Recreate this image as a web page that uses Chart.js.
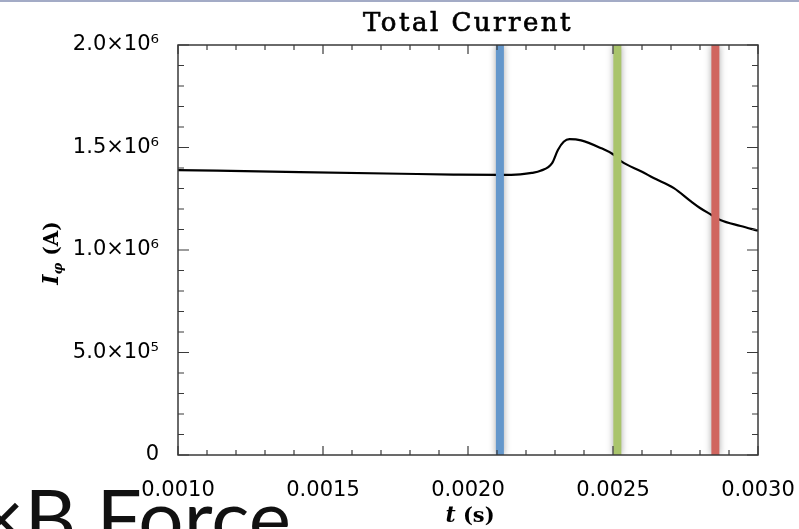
<!DOCTYPE html>
<html>
<head>
<meta charset="utf-8">
<script src="https://cdn.jsdelivr.net/npm/chart.js@4.4.0/dist/chart.umd.min.js"></script>
<style>
    html, body { margin: 0; padding: 0; background: #fff; }
    #painel { position: relative; width: 799px; height: 529px; overflow: hidden; background: #fff; }
    #barraTopo { position: absolute; left: 0; top: 0; width: 799px; height: 2px; background: #a3abc6; }
    #textoSlide { position: absolute; left: -22px; top: 476px; font-family: Lato, sans-serif; font-size: 80px; line-height: 1; color: #111; white-space: nowrap; }
    #grafico { position: absolute; left: 0; top: 0; }
</style>
</head>
<body>
<div id="painel">
    <div id="barraTopo"></div>
    <div id="textoSlide">×B Force</div>
    <canvas id="grafico" width="799" height="529"></canvas>
</div>
<script>
// Corrente total (A) em função do tempo (s)
var tempos = [0.00100, 0.00142, 0.00177, 0.00195, 0.00211, 0.00218, 0.00222, 0.00225, 0.00229, 0.00231,
              0.00233, 0.00235, 0.00239, 0.00246, 0.00250, 0.00253, 0.00260, 0.00264, 0.00271, 0.00277,
              0.00280, 0.00284, 0.00287, 0.00294, 0.00300];
var correntes = [1.390e6, 1.380e6, 1.372e6, 1.368e6, 1.366e6, 1.369e6, 1.376e6, 1.386e6, 1.424e6, 1.488e6,
                 1.528e6, 1.541e6, 1.535e6, 1.496e6, 1.467e6, 1.431e6, 1.382e6, 1.351e6, 1.302e6, 1.236e6,
                 1.205e6, 1.171e6, 1.146e6, 1.117e6, 1.094e6];

// Instantes marcados com linhas verticais
var temposMarcados = [0.00211, 0.002515, 0.002853];
var coresMarcas = ['#6497cb', '#a9c46b', '#d0665f'];

// Limites e passos dos eixos
var eixoX = { min: 0.0010, max: 0.0030, passo: 0.0005, passoMenor: 0.0001 };
var eixoY = { min: 0, max: 2.0e6, passo: 5.0e5, passoMenor: 1.0e5 };

const sobrescritos = { '0': '⁰', '1': '¹', '2': '²', '3': '³', '4': '⁴', '5': '⁵', '6': '⁶', '7': '⁷', '8': '⁸', '9': '⁹' };

// Formata 1500000 como 1.5×10⁶
function formatarCientifico(valor) {
    if (valor === 0) return '0';
    const expoente = Math.floor(Math.log10(valor) + 1e-9);
    const mantissa = valor / Math.pow(10, expoente);
    const exp = String(expoente).split('').map(c => sobrescritos[c]).join('');
    return mantissa.toFixed(1) + '×10' + exp;
}

// Monta os datasets: curva de corrente + linhas verticais
var datasets = [{
    label: 'Corrente',
    data: tempos.map((t, i) => ({ x: t, y: correntes[i] })),
    showLine: true,
    borderColor: '#000',
    borderWidth: 2.2,
    pointRadius: 0,
    cubicInterpolationMode: 'monotone',
    order: 2
}];

temposMarcados.forEach(function (t, i) {
    datasets.push({
        label: 'marca' + i,
        data: [{ x: t, y: eixoY.min }, { x: t, y: eixoY.max }],
        showLine: true,
        borderColor: coresMarcas[i],
        borderWidth: 8,
        pointRadius: 0,
        order: 1,
        marca: true
    });
});

// Sombra suave nas linhas verticais
const sombraMarcas = {
    id: 'sombraMarcas',
    beforeDatasetDraw(chart, args) {
        if (!args.meta._dataset.marca) return;
        const ctx = chart.ctx;
        ctx.save();
        ctx.shadowColor = 'rgba(0, 0, 0, 0.35)';
        ctx.shadowBlur = 7;
    },
    afterDatasetDraw(chart, args) {
        if (!args.meta._dataset.marca) return;
        chart.ctx.restore();
    }
};

// Moldura com marcas de escala para dentro nos quatro lados, títulos
const moldura = {
    id: 'moldura',
    afterDatasetsDraw(chart) {
        const ctx = chart.ctx;
        const a = chart.chartArea;
        const sx = chart.scales.x;
        const sy = chart.scales.y;
        ctx.save();
        ctx.strokeStyle = '#3a3a3a';
        ctx.lineWidth = 1.5;
        ctx.strokeRect(a.left, a.top, a.right - a.left, a.bottom - a.top);

        ctx.lineWidth = 1.2;
        ctx.beginPath();
        const nX = Math.round((eixoX.max - eixoX.min) / eixoX.passoMenor);
        for (let i = 0; i <= nX; i++) {
            const px = sx.getPixelForValue(eixoX.min + i * eixoX.passoMenor);
            const tam = (i % 5 === 0) ? 9 : 5;
            ctx.moveTo(px, a.bottom); ctx.lineTo(px, a.bottom - tam);
            ctx.moveTo(px, a.top); ctx.lineTo(px, a.top + tam);
        }
        const nY = Math.round((eixoY.max - eixoY.min) / eixoY.passoMenor);
        for (let i = 0; i <= nY; i++) {
            const py = sy.getPixelForValue(eixoY.min + i * eixoY.passoMenor);
            const tam = (i % 5 === 0) ? 11 : 6;
            ctx.moveTo(a.left, py); ctx.lineTo(a.left + tam, py);
            ctx.moveTo(a.right, py); ctx.lineTo(a.right - tam, py);
        }
        ctx.stroke();

        ctx.fillStyle = '#000';
        ctx.strokeStyle = '#000';
        ctx.textBaseline = 'alphabetic';

        // Título (traço leve para engrossar)
        ctx.font = '26px "DejaVu Serif"';
        ctx.letterSpacing = '2.5px';
        ctx.textAlign = 'center';
        ctx.lineWidth = 0.7;
        ctx.fillText('Total Current', (a.left + a.right) / 2, 31);
        ctx.strokeText('Total Current', (a.left + a.right) / 2, 31);
        ctx.letterSpacing = '0px';

        // Título do eixo x: t (s)
        ctx.textAlign = 'left';
        const fT = 'bold italic 22px "DejaVu Serif"';
        const fS = 'bold 21px "DejaVu Serif"';
        ctx.font = fT; const wT = ctx.measureText('t').width;
        ctx.font = fS; const wS = ctx.measureText(' (s)').width;
        let x = 470 - (wT + wS) / 2;
        ctx.font = fT; ctx.fillText('t', x, 522);
        ctx.font = fS; ctx.fillText(' (s)', x + wT, 522);

        // Título do eixo y: Iφ (A), girado
        ctx.translate(50, 253);
        ctx.rotate(-Math.PI / 2);
        const fI = 'bold italic 22px "DejaVu Serif"';
        const fSub = 'bold italic 13px "DejaVu Serif"';
        const fA = 'bold 20px "DejaVu Serif"';
        ctx.font = fI; const wI = ctx.measureText('I').width;
        ctx.font = fSub; const wSub = ctx.measureText('φ').width;
        ctx.font = fA; const wA = ctx.measureText(' (A)').width;
        let y0 = -(wI + wSub + wA) / 2;
        ctx.font = fI; ctx.fillText('I', y0, 8); y0 += wI;
        ctx.font = fSub; ctx.fillText('φ', y0, 12); y0 += wSub;
        ctx.font = fA; ctx.fillText(' (A)', y0, 8);
        ctx.restore();
    }
};

const fonteTicks = { family: '"DejaVu Sans", sans-serif', size: 21 };

var grafico = new Chart(document.getElementById('grafico').getContext('2d'), {
    type: 'scatter',
    data: { datasets: datasets },
    options: {
        responsive: false,
        animation: false,
        layout: { padding: { top: 45, right: 41, bottom: 0, left: 0 } },
        plugins: {
            legend: { display: false },
            tooltip: { enabled: false }
        },
        scales: {
            x: {
                type: 'linear',
                min: eixoX.min,
                max: eixoX.max,
                grid: { display: false },
                border: { display: false },
                ticks: {
                    stepSize: eixoX.passo,
                    padding: 15,
                    color: '#000',
                    font: fonteTicks,
                    maxRotation: 0,
                    callback: v => v.toFixed(4)
                },
                afterFit: s => { s.height = 74; s.paddingLeft = 0; s.paddingRight = 0; }
            },
            y: {
                type: 'linear',
                min: eixoY.min,
                max: eixoY.max,
                grid: { display: false },
                border: { display: false },
                ticks: {
                    stepSize: eixoY.passo,
                    padding: 11,
                    color: '#000',
                    font: fonteTicks,
                    callback: v => formatarCientifico(v)
                },
                afterFit: s => { s.width = 178; s.paddingTop = 0; s.paddingBottom = 0; }
            }
        }
    },
    plugins: [sombraMarcas, moldura]
});
</script>
</body>
</html>
